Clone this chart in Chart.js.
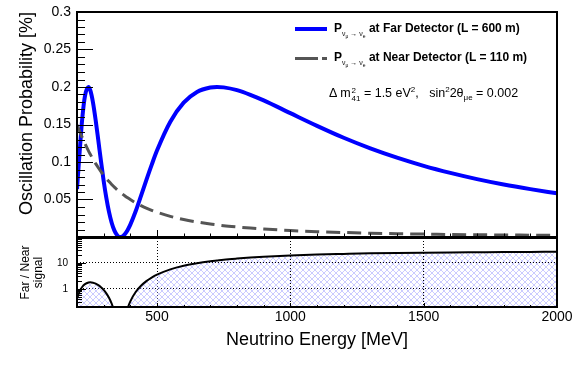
<!DOCTYPE html>
<html>
<head>
<meta charset="utf-8">
<script src="https://cdn.jsdelivr.net/npm/chart.js@4.4.1/dist/chart.umd.min.js"></script>
<style>
  html, body { margin: 0; padding: 0; background: #fff; }
  body { width: 580px; height: 370px; position: relative; overflow: hidden; font-family: "Liberation Sans", Arial, sans-serif; color: #000; }
  canvas { position: absolute; left: 0; }
  #topChart { top: 0; }
  #bottomChart { top: 237px; }
  .leg { position: absolute; font-size: 12px; font-weight: bold; white-space: nowrap; line-height: 14px; }
  .leg sub { font-size: 7px; vertical-align: -4px; font-weight: normal; }
  .leg sub sub { font-size: 5px; vertical-align: -2px; }
  .swatch { position: absolute; height: 3px; }
  .note { position: absolute; font-size: 12.5px; white-space: nowrap; line-height: 14px; }
  .note sup { font-size: 8px; vertical-align: 5px; }
  .note sub { font-size: 8px; vertical-align: -3px; }
  .ss { display: inline-block; vertical-align: -4px; font-size: 8px; line-height: 8px; margin-left: 1px; }
  .ss span { display: block; }
</style>
</head>
<body>
<canvas id="topChart" width="580" height="240"></canvas>
<canvas id="bottomChart" width="580" height="133"></canvas>

<div class="swatch" style="left:295px; top:27px; width:32px; height:4px; background:#0000ff;"></div>
<div class="leg" style="left:334px; top:21px;">P<sub>&nu;<sub>&mu;</sub> &rarr; &nu;<sub>e</sub></sub> at Far Detector (L = 600 m)</div>

<div class="swatch" style="left:295px; top:57px; width:23px; background:#555;"></div>
<div class="swatch" style="left:322px; top:57px; width:5px; background:#555;"></div>
<div class="leg" style="left:334px; top:50px;">P<sub>&nu;<sub>&mu;</sub> &rarr; &nu;<sub>e</sub></sub> at Near Detector (L = 110 m)</div>

<div class="note" style="left:329px; top:83px;">&Delta; m<span class="ss"><span>2</span><span>41</span></span> = 1.5 eV<sup>2</sup>,&nbsp;&nbsp; sin<sup>2</sup>2&theta;<sub>&mu;e</sub> = 0.002</div>

<script>
// neutrino energy [MeV]
const energy = [200, 210, 220, 230, 243, 250, 260, 270, 280, 290, 300, 310, 320, 330, 340, 350, 360, 370, 380, 390,
  400, 420, 440, 460, 480, 500, 550, 600, 650, 700, 725, 750, 800, 850, 900, 1000, 1100, 1200, 1300, 1400, 1500,
  1600, 1700, 1800, 1900, 2000];

// oscillation probability [%], far detector (L = 600 m)
const farProb = [0.0640, 0.1138, 0.1591, 0.1883, 0.2000, 0.1954, 0.1793, 0.1557, 0.1286, 0.1009,
  0.0748, 0.0521, 0.0334, 0.0190, 0.0088, 0.0027, 0.0001, 0.0007, 0.0040, 0.0094,
  0.0165, 0.0343, 0.0548, 0.0759, 0.0962, 0.1152, 0.1537, 0.1791, 0.1934, 0.1993,
  0.2000, 0.1995, 0.1958, 0.1896, 0.1821, 0.1651, 0.1482, 0.1323, 0.1182, 0.1058, 0.0949,
  0.0855, 0.0772, 0.0700, 0.0638, 0.0582];

// oscillation probability [%], near detector (L = 110 m)
const nearProb = [0.1496, 0.1407, 0.1324, 0.1245, 0.1149, 0.1102, 0.1038, 0.0978, 0.0923, 0.0871,
  0.0824, 0.0780, 0.0739, 0.0701, 0.0665, 0.0633, 0.0602, 0.0574, 0.0547, 0.0522,
  0.0499, 0.0456, 0.0419, 0.0385, 0.0356, 0.0330, 0.0275, 0.0233, 0.0200, 0.0173,
  0.0162, 0.0151, 0.0134, 0.0119, 0.0106, 0.0086, 0.0071, 0.0060, 0.0051, 0.0044, 0.0039,
  0.0034, 0.0030, 0.0027, 0.0024, 0.0022];

// far / near signal ratio
const ratio = [0.406, 0.809, 1.202, 1.512, 1.741, 1.773, 1.727, 1.592, 1.393, 1.158,
  0.908, 0.668, 0.452, 0.271, 0.132, 0.043, 0.002, 0.012, 0.073, 0.180,
  0.331, 0.752, 1.308, 1.971, 2.702, 3.491, 5.589, 7.687, 9.67, 11.52,
  12.35, 13.21, 14.61, 15.93, 17.18, 19.20, 20.87, 22.05, 23.18, 24.0, 24.6,
  25.1, 25.5, 25.9, 26.2, 26.5];

// tick positions
const xLabelTicks = [500, 1000, 1500, 2000];
const xMinorTicks = [300, 400, 500, 600, 700, 800, 900, 1000, 1100, 1200, 1300, 1400, 1500, 1600, 1700, 1800, 1900];
const xMajorTicks = [500, 1000, 1500];
const probMinorTicks = [0.01, 0.02, 0.03, 0.04, 0.05, 0.06, 0.07, 0.08, 0.09, 0.1, 0.11, 0.12, 0.13, 0.14, 0.15,
  0.16, 0.17, 0.18, 0.19, 0.2, 0.21, 0.22, 0.23, 0.24, 0.25, 0.26, 0.27, 0.28, 0.29];
const probMajorTicks = [0.05, 0.1, 0.15, 0.2, 0.25];
const ratioLabelTicks = [1, 10];
const ratioMinorTicks = [0.3, 0.4, 0.5, 0.6, 0.7, 0.8, 0.9, 1, 2, 3, 4, 5, 6, 7, 8, 9, 10, 20, 30, 40, 50, 60, 70, 80];

Chart.defaults.font.family = '"Liberation Sans", Arial, sans-serif';
Chart.defaults.color = '#000';

/**
 * Frame with inward ROOT-style ticks
 */
const frameTicks = {
  id: 'frameTicks',
  afterDatasetsDraw(chart, args, o) {
    const { ctx, chartArea: a, scales } = chart;
    ctx.save();
    ctx.strokeStyle = '#000';
    ctx.lineWidth = 1;
    ctx.beginPath();
    o.xTicks.forEach(v => {
      const px = Math.round(scales.x.getPixelForValue(v)) + 0.5;
      const len = o.xMajor.includes(v) ? o.xMajorLen : o.xMinorLen;
      ctx.moveTo(px, a.bottom);
      ctx.lineTo(px, a.bottom - len);
    });
    o.yTicks.forEach(v => {
      const py = Math.round(scales.y.getPixelForValue(v)) + 0.5;
      const len = o.yMajor.includes(v) ? o.yMajorLen : o.yMinorLen;
      ctx.moveTo(a.left, py);
      ctx.lineTo(a.left + len, py);
    });
    ctx.stroke();
    ctx.lineWidth = 2;
    ctx.strokeRect(a.left, a.top, a.right - a.left, a.bottom - a.top);
    ctx.restore();
  }
};

function makeHatch() {
  const c = document.createElement('canvas');
  c.width = 6;
  c.height = 6;
  const g = c.getContext('2d');
  g.strokeStyle = 'rgba(140, 140, 255, 0.45)';
  g.lineWidth = 1;
  g.beginPath();
  g.moveTo(-1, -1); g.lineTo(7, 7);
  g.moveTo(7, -1); g.lineTo(-1, 7);
  g.stroke();
  return g.createPattern(c, 'repeat');
}

// fixed axis box, no extra room reserved for edge labels
function fixWidth(s) {
  s.width = 77;
  s.paddingTop = 0;
  s.paddingBottom = 0;
}

const topChart = new Chart(document.getElementById('topChart'), {
  type: 'line',
  data: {
    labels: energy,
    datasets: [{
      label: 'Far',
      data: energy.map((e, i) => ({ x: e, y: farProb[i] })),
      borderColor: '#0000ff',
      borderWidth: 4,
      pointRadius: 0,
      cubicInterpolationMode: 'monotone',
      fill: false,
      order: 2
    }, {
      label: 'Near',
      data: energy.map((e, i) => ({ x: e, y: nearProb[i] })),
      borderColor: '#555555',
      borderWidth: 3,
      borderDash: [14, 7],
      pointRadius: 0,
      cubicInterpolationMode: 'monotone',
      fill: false,
      order: 1
    }]
  },
  options: {
    responsive: false,
    animation: false,
    events: [],
    layout: { padding: { top: 12, right: 23, bottom: 3, left: 0 } },
    plugins: {
      legend: { display: false },
      tooltip: { enabled: false },
      frameTicks: {
        xTicks: xMinorTicks, xMajor: xMajorTicks, xMajorLen: 7, xMinorLen: 3.5,
        yTicks: probMinorTicks, yMajor: probMajorTicks, yMajorLen: 16, yMinorLen: 8
      }
    },
    scales: {
      x: { type: 'linear', min: 200, max: 2000, display: false },
      y: {
        type: 'linear',
        min: 0,
        max: 0.3,
        afterFit: fixWidth,
        grid: { display: false, drawTicks: false },
        border: { display: false },
        ticks: {
          stepSize: 0.05,
          padding: 6,
          font: { size: 14 },
          callback: v => (v === 0 ? '' : String(Math.round(v * 100) / 100))
        },
        title: {
          display: true,
          text: 'Oscillation Probability [%]',
          align: 'end',
          font: { size: 18 },
          padding: { top: 16, bottom: 0 }
        }
      }
    }
  },
  plugins: [frameTicks]
});

const bottomChart = new Chart(document.getElementById('bottomChart'), {
  type: 'line',
  data: {
    labels: energy,
    datasets: [{
      label: 'Far / Near',
      data: energy.map((e, i) => ({ x: e, y: ratio[i] })),
      borderColor: '#000',
      borderWidth: 2,
      pointRadius: 0,
      cubicInterpolationMode: 'monotone',
      fill: 'start',
      backgroundColor: makeHatch()
    }]
  },
  options: {
    responsive: false,
    animation: false,
    events: [],
    layout: { padding: { top: 1, right: 23, bottom: 0, left: 0 } },
    plugins: {
      legend: { display: false },
      tooltip: { enabled: false },
      frameTicks: {
        xTicks: xMinorTicks, xMajor: xMajorTicks, xMajorLen: 4, xMinorLen: 2,
        yTicks: ratioMinorTicks, yMajor: ratioLabelTicks, yMajorLen: 9, yMinorLen: 5
      }
    },
    scales: {
      x: {
        type: 'linear',
        min: 200,
        max: 2000,
        afterFit: s => { s.height = 63; s.paddingLeft = 0; s.paddingRight = 0; },
        afterBuildTicks: s => { s.ticks = xLabelTicks.map(v => ({ value: v })); },
        grid: { color: '#000', lineWidth: 1, drawTicks: false },
        border: { display: false, dash: [1, 2] },
        ticks: { padding: 2, font: { size: 14 }, callback: v => String(v) },
        title: {
          display: true,
          text: 'Neutrino Energy [MeV]',
          font: { size: 18 },
          padding: { top: 4, bottom: 19 }
        }
      },
      y: {
        type: 'logarithmic',
        min: 0.2,
        max: 90,
        afterFit: fixWidth,
        afterBuildTicks: s => { s.ticks = ratioLabelTicks.map(v => ({ value: v })); },
        grid: { color: '#000', lineWidth: 1, drawTicks: false },
        border: { display: false, dash: [1, 2] },
        ticks: { padding: 9, font: { size: 10 }, callback: v => String(v) },
        title: {
          display: true,
          text: ['Far / Near', 'signal'],
          font: { size: 12, lineHeight: 1.1 },
          padding: { top: 19, bottom: 0 }
        }
      }
    }
  },
  plugins: [frameTicks]
});
</script>
</body>
</html>
